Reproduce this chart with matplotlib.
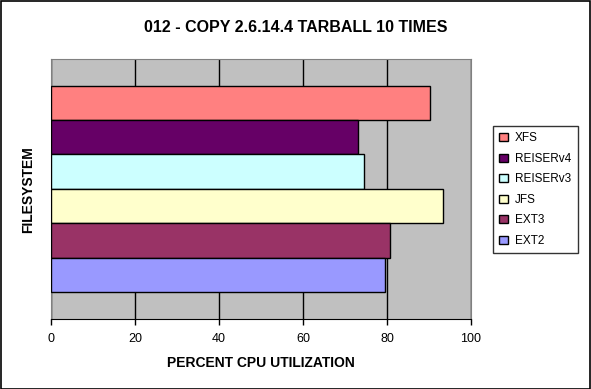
# Balkendiagramm: CPU-Auslastung beim Kopieren des Tarballs, je Dateisystem
import matplotlib
matplotlib.use('Agg')
import matplotlib.pyplot as plt
from matplotlib.patches import Rectangle

# Daten (von oben nach unten wie im Diagramm)
filesystems = ['XFS', 'REISERv4', 'REISERv3', 'JFS', 'EXT3', 'EXT2']
cpu_percent = [90.2, 73.1, 74.4, 93.4, 80.8, 79.4]
colors = ['#FF8080', '#660066', '#CCFFFF', '#FFFFCC', '#993366', '#9999FF']
xticks = [0, 20, 40, 60, 80, 100]

plt.rcParams['font.family'] = ['Liberation Sans', 'DejaVu Sans']

fig = plt.figure(figsize=(5.91, 3.89), dpi=100)
# Rahmen um die ganze Grafik
fig.patches.append(Rectangle((0.001, 0.001), 0.997, 0.996, transform=fig.transFigure,
                             fill=False, edgecolor='black', linewidth=1.2))

ax = fig.add_axes([51.3/591, 1 - 319.3/389, (471 - 51.3)/591, (319.3 - 59.3)/389])
ax.set_facecolor('#C0C0C0')

n = len(filesystems)
ypos = [n - 1 - i for i in range(n)]
bars = ax.barh(ypos, cpu_percent, height=1.0, color=colors, edgecolor='black',
               linewidth=1.0, zorder=3)

ax.set_xlim(0, 100)
ax.set_ylim(-0.5 - 0.78, n - 0.5 + 0.76)
ax.set_xticks(xticks)
ax.set_yticks([])
ax.xaxis.grid(True, color='black', linewidth=1.0, zorder=0)
ax.set_axisbelow(True)
for s in ['top', 'right', 'left']:
    ax.spines[s].set_color('#808080')
ax.spines['bottom'].set_color('black')
ax.tick_params(axis='x', length=4, width=1, labelsize=9, pad=6)

ax.set_xlabel('PERCENT CPU UTILIZATION', fontsize=10, fontweight='bold', labelpad=8)
ax.set_ylabel('FILESYSTEM', fontsize=10, fontweight='bold', labelpad=12)

fig.suptitle('012 - COPY 2.6.14.4 TARBALL 10 TIMES', fontsize=11.5, fontweight='bold',
             y=1 - 28/389, va='center')

leg = fig.legend(bars, filesystems, loc='upper left',
                 bbox_to_anchor=(493/591, 1 - 126/389), fontsize=8.5,
                 frameon=True, fancybox=False, edgecolor='black',
                 handlelength=0.7, handleheight=0.7, handletextpad=0.6,
                 labelspacing=0.72, borderpad=0.55, borderaxespad=0)
leg.get_frame().set_linewidth(1.0)

plt.savefig('out.png', dpi=100)
